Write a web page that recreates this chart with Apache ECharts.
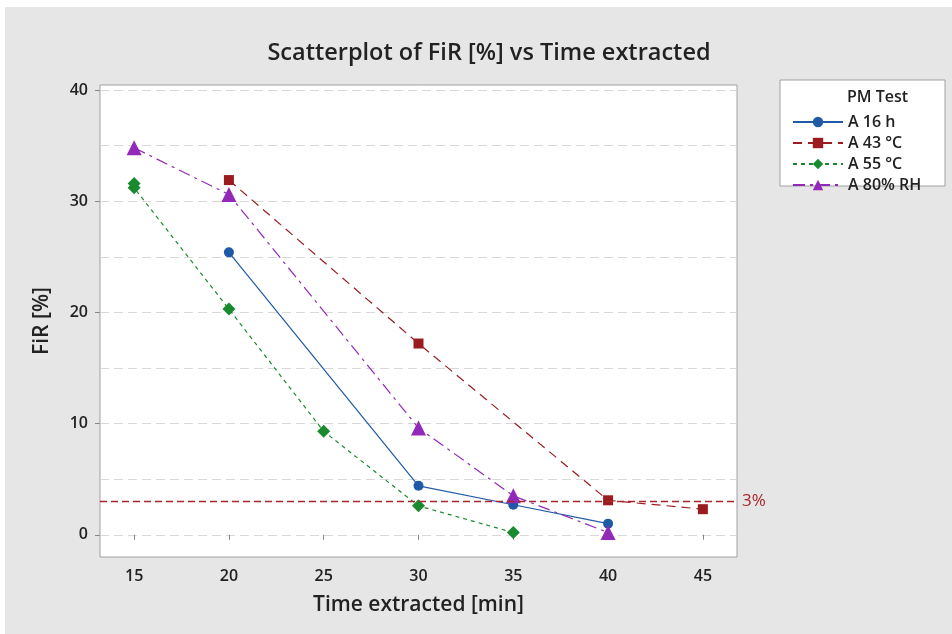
<!DOCTYPE html>
<html>
<head>
<meta charset="utf-8">
<script src="https://cdn.jsdelivr.net/npm/echarts@6/dist/echarts.min.js"></script>
<style>
html,body{margin:0;padding:0;background:#fff;}
#bg{position:absolute;left:5px;top:7px;width:947px;height:627px;background:#e6e6e6;}
#chart{position:absolute;left:0;top:0;width:952px;height:634px;}
</style>
</head>
<body>
<div id="bg"></div>
<div id="chart"></div>
<script>
const seriesNames = ['A 16 h', 'A 43 °C', 'A 55 °C', 'A 80% RH'];
const x16h = [20, 30, 35, 40];
const y16h = [25.4, 4.4, 2.7, 1.0];
const x43C = [20, 30, 40, 45];
const y43C = [31.9, 17.2, 3.1, 2.3];
const x55C = [15, 15, 20, 25, 30, 35];
const y55C = [31.6, 31.2, 20.3, 9.3, 2.6, 0.2];
const x80RH = [15, 20, 30, 35, 40];
const y80RH = [34.8, 30.6, 9.6, 3.5, 0.2];
const xTicks = [15, 20, 25, 30, 35, 40, 45];
const yTicks = [0, 10, 20, 30, 40];
const yGrid = [0, 5, 10, 15, 20, 25, 30, 35, 40];
const refValue = 3;
const refLabel = '3%';

const font = '"Open Sans", "Noto Sans", sans-serif';
const colors = ['#1f5aa6', '#9b1c20', '#1a8a2e', '#9329b8'];
const zip = (xs, ys) => xs.map((x, i) => [x, ys[i]]);

const chart = echarts.init(document.getElementById('chart'));
const option = {
  backgroundColor: 'transparent',
  animation: false,
  textStyle: { fontFamily: font },
  title: {
    text: 'Scatterplot of FiR [%] vs Time extracted',
    left: 484, top: 36, textAlign: 'center',
    textStyle: { fontFamily: font, fontSize: 23.5, fontWeight: 600, color: '#222' }
  },
  graphic: [
    { type: 'rect', shape: { x: 780, y: 80, width: 165, height: 106 },
      style: { fill: '#fff', stroke: '#a0a0a0', lineWidth: 1 }, z: 0 },
    { type: 'text', x: 847, y: 89,
      style: { text: 'PM Test', font: '600 16px ' + font, fill: '#222' }, z: 1 }
  ],
  legend: {
    orient: 'vertical', left: 787, top: 109, itemGap: 5, itemWidth: 50, itemHeight: 13,
    data: seriesNames,
    textStyle: { fontFamily: font, fontSize: 16, color: '#222', fontWeight: 600 },
    z: 5
  },
  grid: { left: 100, right: 215, top: 85, bottom: 77, show: true,
    backgroundColor: '#fff', borderColor: '#a0a0a0', borderWidth: 1 },
  xAxis: {
    type: 'value', min: 13.2, max: 46.8,
    name: 'Time extracted [min]', nameLocation: 'middle', nameGap: 38,
    nameTextStyle: { fontFamily: font, fontSize: 21, color: '#222', fontWeight: 600 },
    axisLine: { show: false },
    axisTick: { show: true, customValues: xTicks, length: 5, lineStyle: { color: '#888' } },
    axisLabel: { customValues: xTicks, fontSize: 16, color: '#222', margin: 11, fontWeight: 600 },
    splitLine: { show: false }
  },
  yAxis: [{
    type: 'value', min: -2, max: 40.45,
    name: 'FiR [%]', nameLocation: 'middle', nameGap: 47,
    nameTextStyle: { fontFamily: font, fontSize: 21, color: '#222', fontWeight: 600 },
    axisLine: { show: false },
    axisTick: { show: false, customValues: yGrid },
    axisLabel: { customValues: yTicks, fontSize: 16, color: '#222', margin: 12, fontWeight: 600 },
    splitLine: { show: true, lineStyle: { color: '#d8d8d8', type: [9, 5], width: 1 } }
  }, {
    type: 'value', min: -2, max: 40.45, position: 'left',
    axisLine: { show: false },
    axisTick: { show: true, customValues: yTicks, length: 5, lineStyle: { color: '#888' } },
    axisLabel: { show: false },
    splitLine: { show: false }
  }],
  series: [
    { name: seriesNames[0], type: 'line', data: zip(x16h, y16h), color: colors[0],
      symbol: 'circle', symbolSize: 10,
      lineStyle: { width: 1.2, type: 'solid' }, z: 3 },
    { name: seriesNames[1], type: 'line', data: zip(x43C, y43C), color: colors[1],
      symbol: 'rect', symbolSize: 10,
      lineStyle: { width: 1.2, type: [9, 6] }, z: 3,
      markLine: {
        silent: true, symbol: 'none',
        lineStyle: { color: '#a8262b', type: [7, 4], width: 1.3 },
        label: { position: 'end', formatter: refLabel, color: '#a8262b', fontSize: 17, fontFamily: font, distance: 5 },
        data: [{ yAxis: refValue }]
      } },
    { name: seriesNames[2], type: 'line', data: zip(x55C, y55C), color: colors[2],
      symbol: 'diamond', symbolSize: 13,
      lineStyle: { width: 1.2, type: [4, 4] }, z: 3 },
    { name: seriesNames[3], type: 'line', data: zip(x80RH, y80RH), color: colors[3],
      symbol: 'triangle', symbolSize: 15,
      lineStyle: { width: 1.2, type: [12, 5, 3, 5] }, z: 3 }
  ]
};
chart.setOption(option);
</script>
</body>
</html>
